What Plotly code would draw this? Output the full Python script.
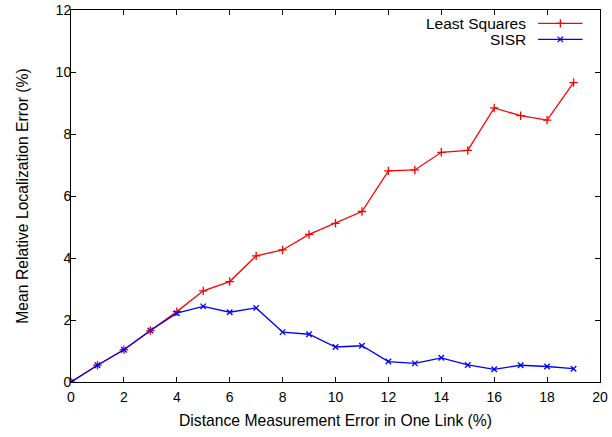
import plotly.graph_objects as go

x_vals = list(range(20))
least_squares = [0, 0.54, 1.04, 1.66, 2.27, 2.94, 3.24, 4.07, 4.26, 4.76, 5.12, 5.50, 6.81, 6.84, 7.41, 7.47, 8.84, 8.59, 8.45, 9.66]
sisr = [0, 0.54, 1.04, 1.66, 2.22, 2.44, 2.25, 2.39, 1.61, 1.54, 1.13, 1.17, 0.66, 0.60, 0.78, 0.55, 0.41, 0.54, 0.50, 0.43]
series_names = ["Least Squares", "SISR"]
x_ticks = list(range(0, 21, 2))
y_ticks = list(range(0, 13, 2))

fam = "Liberation Sans, Arial, sans-serif"
tick_font = dict(family=fam, size=14, color="black")
title_font = dict(family=fam, size=15.7, color="black")
legend_font = dict(family=fam, size=15.5, color="black")

fig = go.Figure()
fig.add_trace(go.Scatter(x=x_vals, y=least_squares, mode="lines+markers", name=series_names[0],
                         line=dict(color="#ff0000", width=1.3),
                         marker=dict(symbol="cross-thin", size=6, line=dict(color="#ff0000", width=1.3)),
                         showlegend=False))
fig.add_trace(go.Scatter(x=x_vals, y=sisr, mode="lines+markers", name=series_names[1],
                         line=dict(color="#0000ff", width=1.3),
                         marker=dict(symbol="x-thin", size=5.5, line=dict(color="#0000ff", width=1.3)),
                         showlegend=False))

# manual gnuplot-style legend (text left of sample) on an overlay axis
leg_colors = ["#ff0000", "#0000ff"]
leg_symbols = ["cross-thin", "x-thin"]
leg_sizes = [6, 5.5]
leg_y = [0.964, 0.921]
for i, name in enumerate(series_names):
    fig.add_trace(go.Scatter(x=[0.883, 0.967], y=[leg_y[i], leg_y[i]], mode="lines",
                             line=dict(color=leg_colors[i], width=1.3), xaxis="x2", yaxis="y2",
                             showlegend=False, hoverinfo="skip"))
    fig.add_trace(go.Scatter(x=[0.925], y=[leg_y[i]], mode="markers",
                             marker=dict(symbol=leg_symbols[i], size=leg_sizes[i],
                                         line=dict(color=leg_colors[i], width=1.3)),
                             xaxis="x2", yaxis="y2", showlegend=False, hoverinfo="skip"))
    fig.add_annotation(x=0.864, y=leg_y[i], xref="x2", yref="y2", text=name, showarrow=False,
                       xanchor="right", yanchor="middle", font=legend_font)

fig.update_layout(
    width=612, height=437,
    margin=dict(l=71, r=12, t=10, b=55),
    plot_bgcolor="white", paper_bgcolor="white",
    font=tick_font,
    xaxis=dict(range=[0, 20], tickvals=x_ticks, ticks="inside", ticklen=5, tickcolor="black",
               showline=True, linecolor="black", linewidth=1, mirror="ticks", showgrid=False,
               zeroline=False, automargin=False, ticklabelstandoff=2,
               title=dict(text="Distance Measurement Error in One Link (%)", standoff=11, font=title_font),
               tickfont=tick_font),
    yaxis=dict(range=[0, 12], tickvals=y_ticks, ticks="inside", ticklen=5, tickcolor="black",
               showline=True, linecolor="black", linewidth=1, mirror="ticks", showgrid=False,
               zeroline=False, automargin=False, ticklabelstandoff=-4,
               title=dict(text="Mean Relative Localization Error (%)", standoff=23, font=title_font),
               tickfont=tick_font),
    xaxis2=dict(range=[0, 1], overlaying="x", visible=False, fixedrange=True),
    yaxis2=dict(range=[0, 1], overlaying="y", visible=False, fixedrange=True),
)

fig.write_html("out.html")
